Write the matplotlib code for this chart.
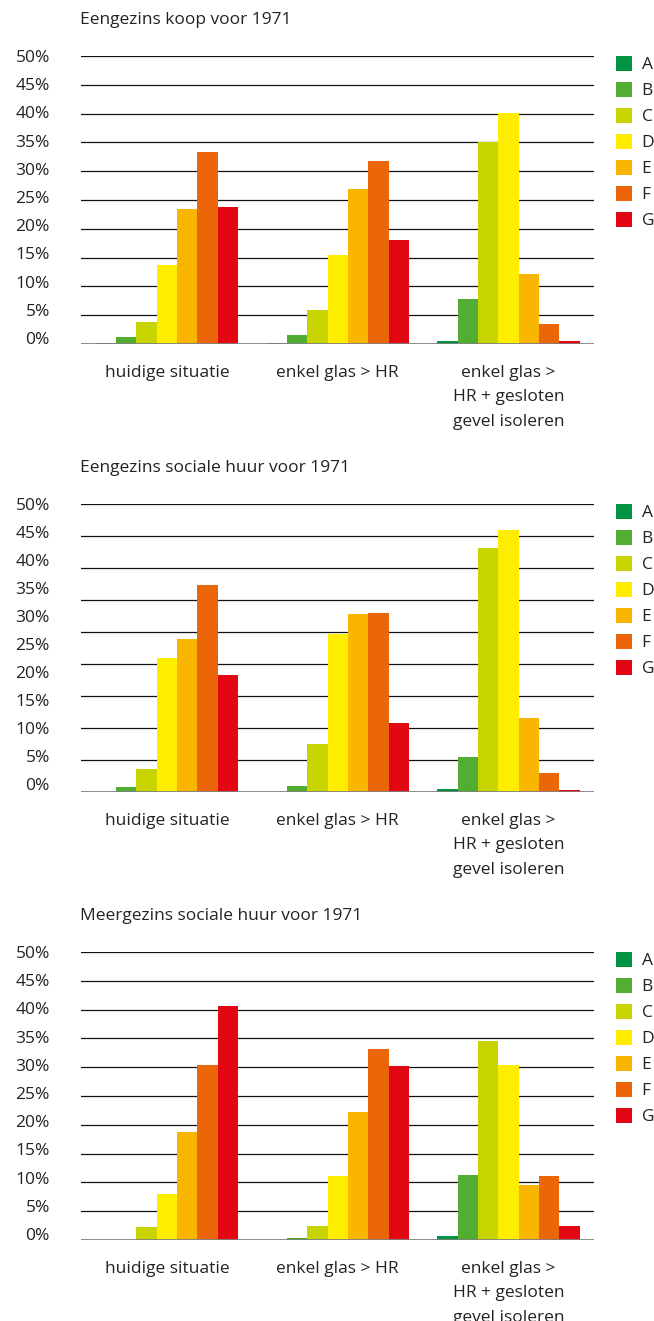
import numpy as np
import matplotlib
matplotlib.use('Agg')
import matplotlib.pyplot as plt

plt.rcParams['font.family'] = ['Open Sans', 'DejaVu Sans']

## data ##
scenarios = ['huidige situatie', 'enkel glas > HR', 'enkel glas >\nHR + gesloten\ngevel isoleren']
labels = ['A', 'B', 'C', 'D', 'E', 'F', 'G']
colors = ['#009343', '#52AE32', '#C8D400', '#FFED00', '#FAB500', '#EA6608', '#E30613']
yticks = [0, 5, 10, 15, 20, 25, 30, 35, 40, 45, 50]

# share of dwellings per energy label (rows A..G, columns = scenarios), in %
eengezins_koop = [
    [0.1, 0.1, 0.5],
    [1.3, 1.5, 7.8],
    [3.9, 5.9, 35.1],
    [13.8, 15.4, 40.1],
    [23.4, 26.9, 12.1],
    [33.3, 31.7, 3.4],
    [23.7, 18.0, 0.6],
]
eengezins_sociaal = [
    [0.0, 0.0, 0.5],
    [0.9, 1.0, 6.1],
    [4.0, 8.3, 42.4],
    [23.3, 27.5, 45.5],
    [26.6, 30.9, 12.9],
    [35.9, 31.1, 3.3],
    [20.3, 12.0, 0.35],
]
meergezins_sociaal = [
    [0.0, 0.0, 0.7],
    [0.0, 0.35, 11.3],
    [2.3, 2.4, 34.6],
    [8.0, 11.1, 30.4],
    [18.8, 22.3, 9.6],
    [30.4, 33.2, 11.1],
    [40.7, 30.2, 2.4],
]

charts = [
    ('Eengezins koop voor 1971', eengezins_koop, 11),
    ('Eengezins sociale huur voor 1971', eengezins_sociaal, 10),
    ('Meergezins sociale huur voor 1971', meergezins_sociaal, 11),
]

W, H = 654, 1321
fig = plt.figure(figsize=(W / 100, H / 100), dpi=100)

baselines = [344, 792, 1240]   # pixel row of the 0% line
plot_h = 288
left, right = 80.5, 594

txt = '#222222'
fs = 12.5
width = 0.119
x = np.arange(len(scenarios))

for (title, vals, ngrid), base in zip(charts, baselines):
    ax = fig.add_axes([left / W, (H - base) / H, (right - left) / W, plot_h / H])
    ax.set_xlim(-0.506, 2.5)
    ax.set_ylim(0, 50)

    # horizontal grid lines (the middle chart only has 10 of them)
    for g in np.linspace(0, 50, ngrid)[1:]:
        ax.axhline(g, color='#111111', lw=0.9, zorder=1)
    ax.axhline(0, color='#808080', lw=2.0, zorder=4)

    for k, lab in enumerate(labels):
        ax.bar(x + (k - 3) * width, vals[k], width, color=colors[k],
               label=lab, zorder=2, linewidth=0)

    for s in ax.spines.values():
        s.set_visible(False)
    ax.set_xticks(x)
    ax.set_xticklabels(scenarios, fontsize=fs, color=txt, linespacing=1.72, va='top')
    ax.tick_params(axis='x', length=0, pad=15)

    # y labels run evenly from the top line to just above the baseline
    off = 1.05 if ngrid == 11 else 1.4
    pos = [off + v * (50 - off) / 50 for v in yticks]
    ax.set_yticks(pos)
    ax.set_yticklabels([f'{v}%' for v in yticks], fontsize=fs, color=txt)
    ax.tick_params(axis='y', length=0, pad=22)

    ax.text(0, 1.0 + 36 / plot_h, title, transform=ax.transAxes, fontsize=fs,
            color=txt, ha='left', va='center')

    leg = ax.legend(loc='upper left', bbox_to_anchor=(1.0 + 22 / (right - left), 1.0),
                    frameon=False, fontsize=fs, handlelength=0.92, handleheight=0.92,
                    handletextpad=0.55, labelspacing=0.5, borderpad=0, borderaxespad=0)
    for t in leg.get_texts():
        t.set_color(txt)

fig.savefig('out.png', dpi=100)
